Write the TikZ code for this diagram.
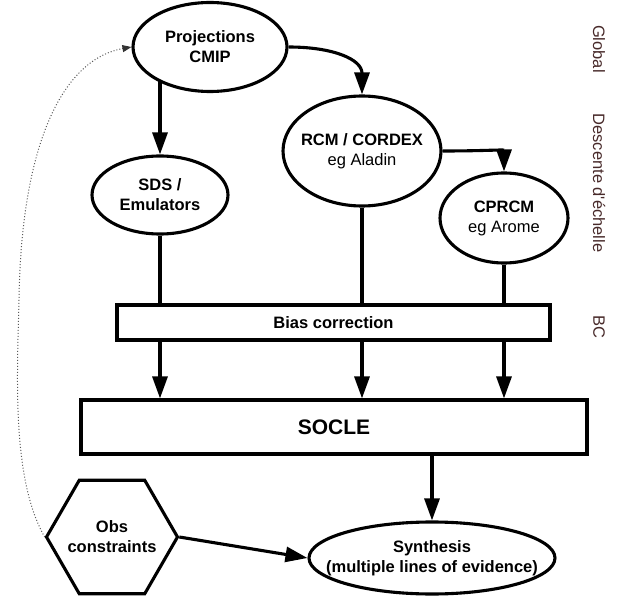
\documentclass[tikz,border=0pt]{standalone}
\usepackage{fontspec}
\setmainfont{Liberation Sans}
\newfontfamily\sidefont{Liberation Sans}
\usetikzlibrary{shapes.geometric,arrows.meta,backgrounds,calc}
\definecolor{sidegray}{RGB}{72,42,42}

\begin{document}
\begin{tikzpicture}[x=1pt,y=-1pt,
  every node/.style={font=\fontsize{16.5}{20}\selectfont\bfseries, align=center, inner sep=0pt},
  model/.style={ellipse, draw, line width=3.1pt, fill=white, inner xsep=-30pt, inner ysep=-8pt},
  bar/.style={rectangle, draw, line width=3.1pt, fill=white},
  hexa/.style={regular polygon, regular polygon sides=6, draw, line width=3.1pt, fill=white, inner sep=-20pt},
  flow/.style={line width=3.1pt, -{Triangle[length=22pt,width=15pt]}},
  link/.style={line width=3.1pt},
  side/.style={font=\sidefont\fontsize{16.5}{20}\selectfont, rotate=-90, text=sidegray},
  hint/.style={black!65, dotted, line width=1pt, -{Triangle[length=9pt,width=7pt,color=black!80]}}
]
\useasboundingbox (0,0) rectangle (619,604);

% model chain
\node[model, minimum width=154pt, minimum height=89pt] (proj) at (210,47) {Projections\\CMIP};
\node[model, minimum width=158pt, minimum height=110pt] (rcm) at (362,151) {RCM / CORDEX\\{\mdseries eg Aladin}};
\node[model, minimum width=136pt, minimum height=78pt] (sds) at (160,195) {SDS /\\Emulators};
\node[model, minimum width=128pt, minimum height=90pt] (cprcm) at (504,218) {CPRCM\\{\mdseries eg Arome}};

% processing bars
\node[bar, minimum width=433pt, minimum height=35pt] (bias) at (333.5,322.5) {Bias correction};
\node[bar, minimum width=506pt, minimum height=54pt, font=\fontsize{21}{25}\selectfont\bfseries] (socle) at (334,427) {SOCLE};

% observations and synthesis
\node[hexa, minimum size=131pt] (obs) at (112,537) {Obs\\constraints};
\node[model, minimum width=246pt, minimum height=72pt] (synth) at (432,558) {Synthesis\\(multiple lines of evidence)};

% level labels
\node[side] (glob) at (599,49) {Global};
\node[side] (desc) at (599,183) {Descente d'échelle};
\node[side] (bc) at (599,327) {BC};

% downscaling arrows
\draw[flow] (proj.east) .. controls +(45,0) and +(0,-35) .. (rcm.north);
\draw[flow] (rcm.east) .. controls +(40,0) and +(0,-22) .. (cprcm.north);
\begin{scope}[on background layer]
  \draw[flow] (sds.north |- proj.center) -- (sds.north);
\end{scope}

% into bias correction
\draw[link] (sds.south) -- (sds.south |- bias.north);
\draw[link] (rcm.south) -- (rcm.south |- bias.north);
\draw[link] (cprcm.south) -- (cprcm.south |- bias.north);

% into the socle
\draw[flow] (sds.south |- bias.south) -- (sds.south |- socle.north);
\draw[flow] (rcm.south |- bias.south) -- (rcm.south |- socle.north);
\draw[flow] (cprcm.south |- bias.south) -- (cprcm.south |- socle.north);

% synthesis inputs
\draw[flow] (socle.south -| synth.north) -- (synth.north);
\draw[flow] (obs.east) -- (synth.west);

% observational feedback
\draw[hint] (obs.west) .. controls (12,480) and (17,380) .. (19,300)
  .. controls (21,150) and (60,60) .. (proj.west);
\end{tikzpicture}
\end{document}
